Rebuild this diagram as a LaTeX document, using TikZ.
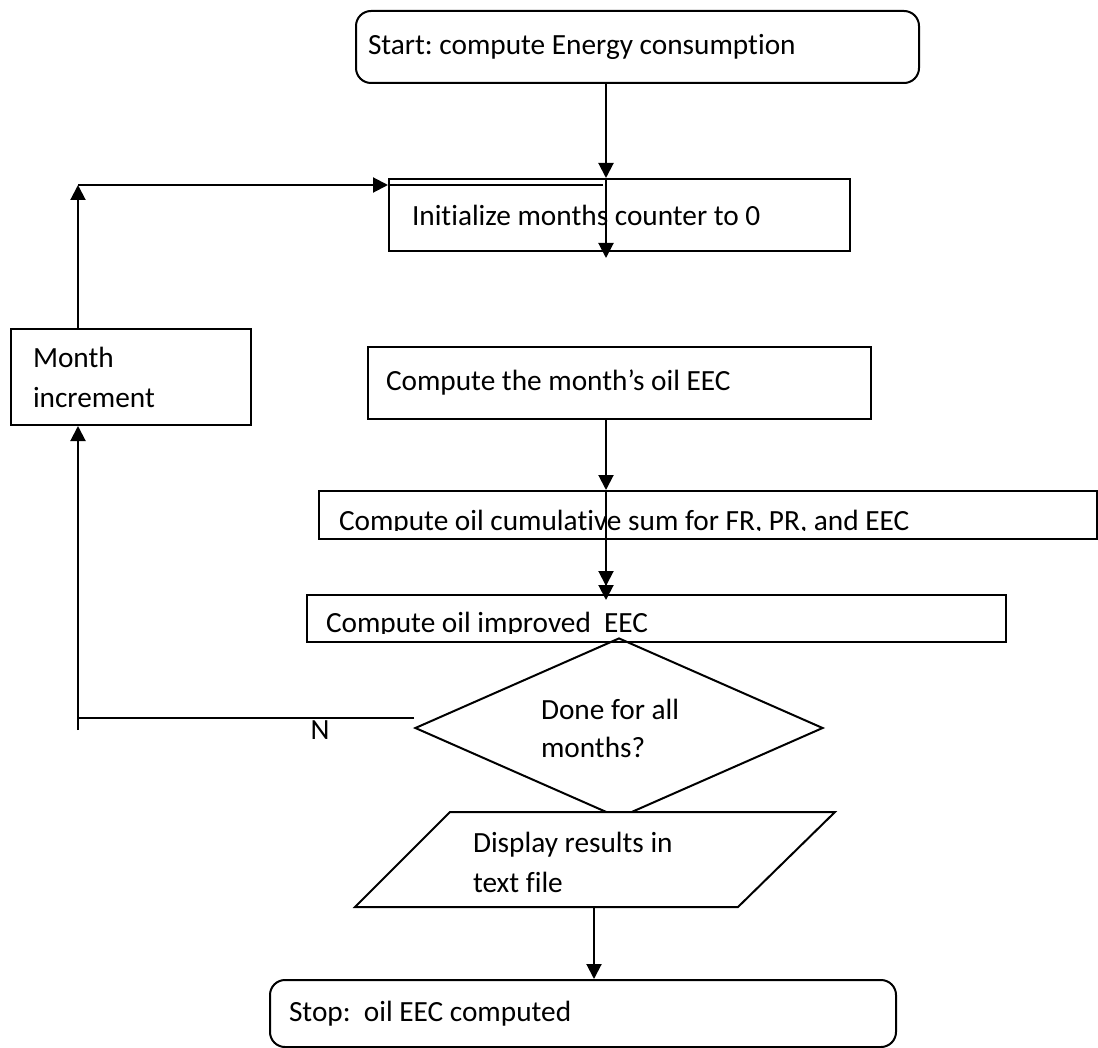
\documentclass[tikz,border=0pt]{standalone}
\usepackage{fontspec}
\setmainfont{Carlito}[Ligatures=NoCommon]
\frenchspacing
\usetikzlibrary{positioning,shapes.geometric,arrows.meta}

\begin{document}
\begin{tikzpicture}[x=0.5pt,y=-0.5pt,line width=1pt,
box/.style={draw,rectangle,anchor=north west,align=flush left,inner ysep=0pt,font=\fontsize{14.65}{20}\selectfont},
term/.style={box,rounded corners=7.5pt},
txt/.style={anchor=west,align=flush left,inner sep=0pt,font=\fontsize{14.65}{20}\selectfont},
arr/.style={-{Triangle[length=7.5pt,width=7.5pt]}}]
\useasboundingbox (0,0) rectangle (1098,1048);

% column of the main flow and the loop back
\coordinate (col) at (606,0);
\coordinate (back) at (78,185);
\coordinate (backend) at (603,185);
\coordinate (nleft) at (78,718);
\coordinate (nend) at (78,730);

\node (start) [term,minimum height=36pt,inner xsep=6pt,text width=269.5pt] at (355,10) {Start: compute Energy consumption};
\node (init) [box,minimum height=36pt,inner xsep=11.5pt,text width=207.5pt] at (388,178) {Initialize months counter to 0};
\node (month) [box,minimum height=48pt,inner xsep=11pt,text width=98pt] at (10,328) {Month\\increment};
\node (comp) [box,minimum height=36pt,inner xsep=9pt,text width=233.5pt] at (367,346) {Compute the month’s oil EEC};
\node (cum) [box,minimum height=24pt,inner xsep=0pt,minimum width=389pt] at (318,490) {};
\node (impr) [box,minimum height=23.5pt,inner xsep=0pt,minimum width=349.5pt] at (306,594) {};
\node (stop) [term,minimum height=33.5pt,inner xsep=9.5pt,text width=294pt] at (269,979) {Stop:\ \ oil EEC computed};

% texts cut off at the lower edge
\begin{scope}
\clip (cum.north west) rectangle ([yshift=5pt]cum.south east);
\node (cumtxt) [txt,anchor=base west] at (338,530) {Compute oil cumulative sum for FR, PR, and EEC};
\end{scope}
\begin{scope}
\clip (impr.north west) rectangle ([yshift=5pt]impr.south east);
\node (imprtxt) [txt,anchor=base west] at (325,632) {Compute oil improved\ \ EEC};
\end{scope}

% decision and output
\node (done) [draw,diamond,aspect=2.27,minimum width=204pt,minimum height=90pt,inner sep=0pt,text width=78pt,align=flush left,font=\fontsize{14.65}{19}\selectfont] at (619,728) {Done for all\\months?};
\coordinate (dtl) at (450,812);
\coordinate (dtr) at (835,812);
\coordinate (dbr) at (738,907);
\coordinate (dbl) at (355,907);
\draw[fill=white] (dtl) -- (dtr) -- (dbr) -- (dbl) -- cycle;
\node (disp) [txt] at (472,862) {Display results in\\text file};
\coordinate (dispbot) at (594,907);
\node (nlab) [txt,anchor=center] at (320,730) {N};

% connectors
\draw[arr] (start.south -| col) -- (init.north -| col);
\draw[arr] (init.north -| col) -- ([yshift=-3pt]init.south -| col);
\draw[arr] (month.north -| back) -- (back);
\draw[arr] (back) -- (init.west |- back);
\draw (init.west |- back) -- (backend);
\draw[arr] (nend) -- (month.south -| back);
\draw (nleft -| done.west) -- (nleft);
\draw[arr] (comp.south -| col) -- (cum.north -| col);
\draw[arr] (cum.north -| col) -- ([yshift=4pt]impr.north -| col);
\draw[arr] (cum.south -| col) -- ([yshift=-3pt]impr.north -| col);
\draw[arr] (dispbot) -- (stop.north -| dispbot);
\end{tikzpicture}
\end{document}
